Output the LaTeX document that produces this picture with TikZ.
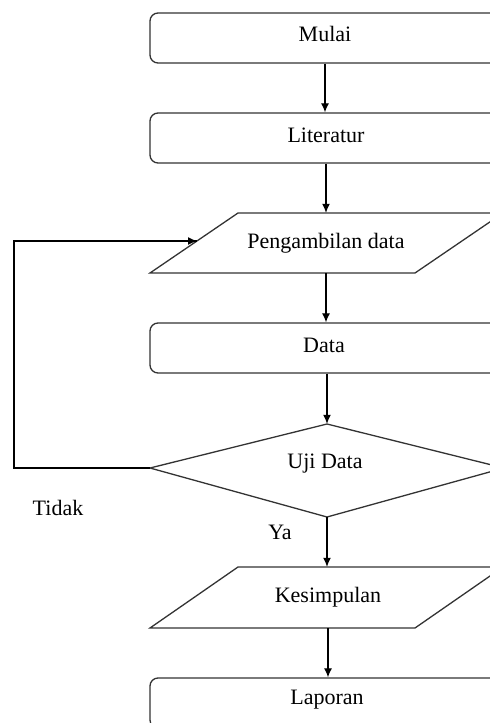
\documentclass[tikz,border=0pt]{standalone}
\usepackage{fontspec}
\setmainfont{Liberation Serif}
\usetikzlibrary{arrows.meta}
\begin{document}
\begin{tikzpicture}[x=1pt,y=-1pt,
  shapeline/.style={draw=black!80,line width=1.3pt},
  box/.style={shapeline,rounded corners=8pt,minimum width=350pt,minimum height=50pt},
  lbl/.style={font=\fontsize{22}{26}\selectfont,inner sep=0pt},
  arr/.style={draw=black,line width=1.2pt,-{Latex[length=9pt,width=8pt]}}]
\useasboundingbox (0,0) rectangle (490,723);
\clip (0,0) rectangle (490,723);
% boxes
\node[box] (mulai) at (325,38) {};
\node[lbl] at (325,34) {Mulai};
\node[box] (lit) at (325,138) {};
\node[lbl] at (326,135) {Literatur};
% parallelogram 1
\draw[shapeline] (150,273) -- (238,213) -- (503,213) -- (415,273) -- cycle;
\node[lbl,minimum width=265pt,minimum height=60pt] (ambil) at (326,243) {Pengambilan data};
\coordinate (ambilL) at (197,241);
\node[box] (data) at (325,348) {};
\node[lbl] at (324,345) {Data};
% diamond
\draw[shapeline] (327,424) -- (504,468) -- (327,517) -- (150,468) -- cycle;
\node[lbl,minimum height=93pt] (uji) at (327,470.5) {};
\node[lbl] at (325,464) {Uji Data};
\coordinate (ujiL) at (150,468);
% parallelogram 2
\draw[shapeline] (150,628) -- (238,567) -- (503,567) -- (415,628) -- cycle;
\node[lbl,minimum width=265pt,minimum height=61pt] (kes) at (328,597.5) {Kesimpulan};
\node[box] (lap) at (325,703) {};
\node[lbl] at (327,700) {Laporan};
% labels
\node[lbl] (tidak) at (58,508) {Tidak};
\node[lbl] (ya) at (280,532) {Ya};
% connectors
\draw[arr] (mulai.south) -- (lit.north);
\draw[arr] (lit.south -| ambil.north) -- (ambil.north);
\draw[arr] (ambil.south) -- (data.north -| ambil.south);
\draw[arr] (data.south -| uji.north) -- (uji.north);
\draw[arr] (uji.south) -- (kes.north -| uji.south);
\draw[arr] (kes.south) -- (lap.north -| kes.south);
\draw[line width=1.2pt] (ujiL) -- (14,468) |- (ambilL);
\draw[arr] (100,241) -- (ambilL);
\end{tikzpicture}
\end{document}
